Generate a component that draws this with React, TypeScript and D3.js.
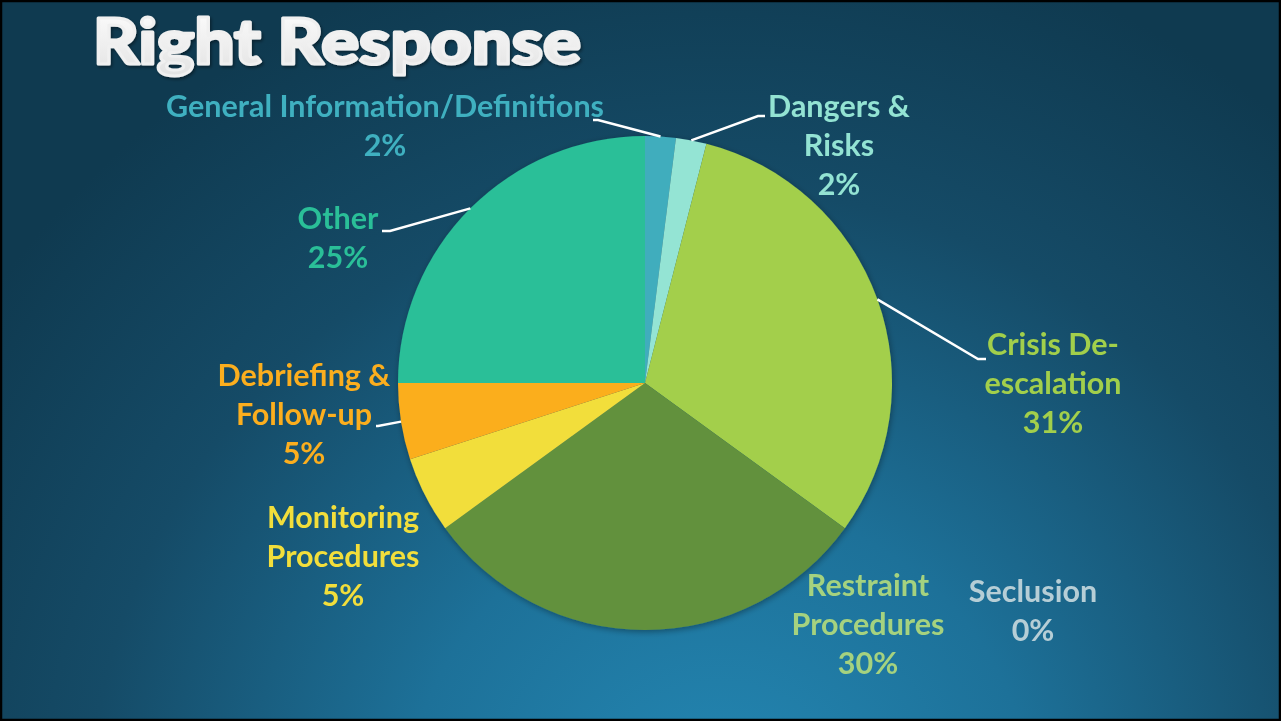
import React from 'react';
import * as d3 from 'd3';

const categories = [
  'General Information/Definitions',
  'Dangers & Risks',
  'Crisis De-escalation',
  'Restraint Procedures',
  'Seclusion',
  'Monitoring Procedures',
  'Debriefing & Follow-up',
  'Other',
];
const values = [2, 2, 31, 30, 0, 5, 5, 25];
const percentLabels = ['2%', '2%', '31%', '30%', '0%', '5%', '5%', '25%'];
const labelLines = [
  ['General Information/Definitions'],
  ['Dangers &', 'Risks'],
  ['Crisis De-', 'escalation'],
  ['Restraint', 'Procedures'],
  ['Seclusion'],
  ['Monitoring', 'Procedures'],
  ['Debriefing &', 'Follow-up'],
  ['Other'],
];
const sliceColors = ['#41adbd', '#94e4d4', '#a3cf4c', '#62913e', '#8fb3bf', '#f2de3b', '#fbae1e', '#2abf98'];
const labelColors = ['#3fb0c0', '#93e3d3', '#a2cf4b', '#a5d27f', '#b6ced6', '#f2de3b', '#fbae1e', '#2abf98'];

const title = 'Right Response';

// layout (positions only)
const W = 1281;
const H = 721;
const CX = 645;
const CY = 383;
const R = 247;
const LINE_H = 39;
const labelLayout: { x: number; y: number; leader?: [number, number][] }[] = [
  { x: 385, y: 117, leader: [[593, 120], [598, 120]] },
  { x: 839, y: 117, leader: [[765, 116], [758, 116]] },
  { x: 1053, y: 355, leader: [[986, 359], [978, 359]] },
  { x: 868, y: 596 },
  { x: 1033, y: 602 },
  { x: 343, y: 528 },
  { x: 304, y: 386, leader: [[376, 426], [378, 426]] },
  { x: 338, y: 229, leader: [[382, 231], [390, 231]] },
];

export default function App() {
  const pie = d3
    .pie<number>()
    .sort(null)
    .startAngle(0)
    .endAngle(2 * Math.PI)
    .value((d) => d);
  const arcs = pie(values);
  const arc = d3.arc<d3.PieArcDatum<number>>().innerRadius(0).outerRadius(R);
  const line = d3.line();
  const font = 'Lato, "Open Sans", sans-serif';

  return (
    <svg
      width={W}
      height={H}
      viewBox={`0 0 ${W} ${H}`}
      style={{ position: 'fixed', left: 0, top: 0, display: 'block' }}
    >
      <defs>
        <radialGradient id="bg" gradientUnits="userSpaceOnUse" cx={720} cy={820} r={900}>
          <stop offset="0" stopColor="#2488b4" />
          <stop offset="0.35" stopColor="#1d7199" />
          <stop offset="0.7" stopColor="#154b67" />
          <stop offset="1" stopColor="#0f3a50" />
        </radialGradient>
        <linearGradient id="titleFill" x1="0" y1="0" x2="0" y2="1">
          <stop offset="0" stopColor="#ffffff" />
          <stop offset="1" stopColor="#e2e2e2" />
        </linearGradient>
        <filter id="shadow" x="-20%" y="-20%" width="140%" height="140%">
          <feDropShadow dx="1" dy="2" stdDeviation="3" floodColor="#000" floodOpacity="0.35" />
        </filter>
        <filter id="tshadow" x="-5%" y="-20%" width="110%" height="140%">
          <feDropShadow dx="1.5" dy="2" stdDeviation="1.5" floodColor="#000" floodOpacity="0.4" />
        </filter>
      </defs>
      <rect x={0} y={0} width={W} height={H} fill="url(#bg)" />

      <text
        x={93}
        y={64}
        fontFamily={font}
        fontWeight={900}
        fontSize={63}
        fill="url(#titleFill)"
        stroke="#f0f0f0"
        strokeWidth={3}
        strokeLinejoin="round"
        textLength={488}
        lengthAdjust="spacingAndGlyphs"
        filter="url(#tshadow)"
      >
        {title}
      </text>

      <g transform={`translate(${CX},${CY})`} filter="url(#shadow)">
        {arcs.map((a, i) => (
          <path key={categories[i]} d={arc(a) || ''} fill={sliceColors[i]} />
        ))}
      </g>

      {arcs.map((a, i) => {
        const lay = labelLayout[i];
        if (!lay.leader) return null;
        const mid = (a.startAngle + a.endAngle) / 2;
        const px = CX + R * Math.sin(mid);
        const py = CY - R * Math.cos(mid);
        const pts: [number, number][] = [...lay.leader, [px, py]];
        return (
          <path
            key={'l' + i}
            d={line(pts) || ''}
            fill="none"
            stroke="#ffffff"
            strokeWidth={2.5}
          />
        );
      })}

      {categories.map((c, i) => {
        const lay = labelLayout[i];
        const lines = [...labelLines[i], percentLabels[i]];
        return (
          <text
            key={'t' + c}
            x={lay.x}
            y={lay.y}
            textAnchor="middle"
            fontFamily={font}
            fontWeight={700}
            fontSize={30.5}
            fill={labelColors[i]}
          >
            {lines.map((s, j) => (
              <tspan key={j} x={lay.x} y={lay.y + j * LINE_H}>
                {s}
              </tspan>
            ))}
          </text>
        );
      })}

      <rect x={1} y={1} width={W - 2} height={H - 2} fill="none" stroke="#000" strokeWidth={2.5} />
    </svg>
  );
}
